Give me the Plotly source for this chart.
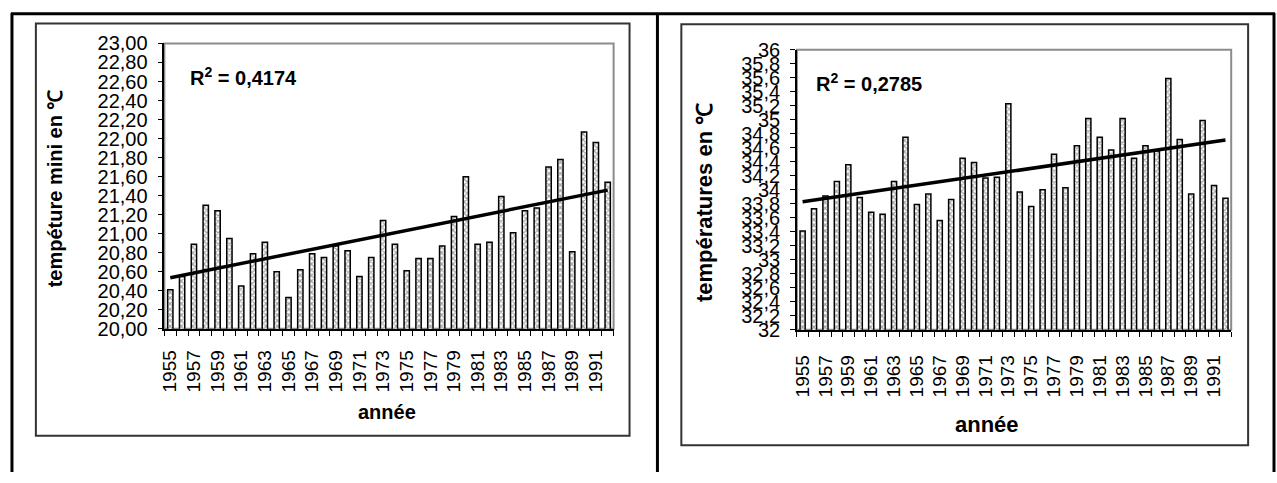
import numpy as np
import plotly.graph_objects as go

years = list(range(1955, 1993))

tmin = [20.41, 20.55, 20.89, 21.30, 21.24, 20.95, 20.45, 20.79, 20.91, 20.60,
        20.33, 20.62, 20.79, 20.75, 20.87, 20.82, 20.55, 20.75, 21.14, 20.89,
        20.61, 20.74, 20.74, 20.87, 21.18, 21.60, 20.89, 20.91, 21.39, 21.01,
        21.24, 21.27, 21.70, 21.78, 20.81, 22.07, 21.96, 21.54]

tmax = [33.41, 33.73, 33.91, 34.12, 34.36, 33.89, 33.68, 33.65, 34.12, 34.75,
        33.79, 33.94, 33.56, 33.86, 34.45, 34.39, 34.17, 34.18, 35.23, 33.97,
        33.76, 34.00, 34.51, 34.03, 34.63, 35.02, 34.75, 34.57, 35.02, 34.45,
        34.63, 34.56, 35.59, 34.72, 33.94, 34.99, 34.06, 33.88]

x_tickvals = list(range(1955, 1992, 2))
x_ticktext = [str(y) for y in x_tickvals]

left_yvals = [20.0, 20.2, 20.4, 20.6, 20.8, 21.0, 21.2, 21.4, 21.6, 21.8,
              22.0, 22.2, 22.4, 22.6, 22.8, 23.0]
left_ytext = ["20,00", "20,20", "20,40", "20,60", "20,80", "21,00", "21,20", "21,40",
              "21,60", "21,80", "22,00", "22,20", "22,40", "22,60", "22,80", "23,00"]

right_yvals = [32.0, 32.2, 32.4, 32.6, 32.8, 33.0, 33.2, 33.4, 33.6, 33.8, 34.0,
               34.2, 34.4, 34.6, 34.8, 35.0, 35.2, 35.4, 35.6, 35.8, 36.0]
right_ytext = ["32", "32,2", "32,4", "32,6", "32,8", "33", "33,2", "33,4", "33,6", "33,8",
               "34", "34,2", "34,4", "34,6", "34,8", "35", "35,2", "35,4", "35,6", "35,8", "36"]

r2_left = "R<sup>2</sup> = 0,4174"
r2_right = "R<sup>2</sup> = 0,2785"

W, H = 1277, 483
FONT = "Liberation Sans, Arial, sans-serif"


def px(x):
    return x / W


def py(y):
    return 1 - y / H


fig = go.Figure()

bar_style = dict(
    marker=dict(
        color="white",
        line=dict(color="black", width=1.5),
        pattern=dict(shape="x", fgcolor="#444444", bgcolor="white", size=4, solidity=0.5),
    ),
    width=0.45,
    showlegend=False,
)

fig.add_trace(go.Bar(x=years, y=tmin, xaxis="x", yaxis="y", **bar_style))
fig.add_trace(go.Bar(x=years, y=tmax, xaxis="x2", yaxis="y2", **bar_style))

# linear trend lines (least squares fit of the series)
yr = np.array(years, dtype=float)
c1 = np.polyfit(yr, np.array(tmin), 1)
c2 = np.polyfit(yr, np.array(tmax), 1)
ends = [years[0], years[-1]]
fig.add_trace(go.Scatter(x=ends, y=[np.polyval(c1, e) for e in ends], mode="lines",
                         line=dict(color="black", width=3.5), xaxis="x", yaxis="y",
                         showlegend=False))
fig.add_trace(go.Scatter(x=ends, y=[np.polyval(c2, e) for e in ends], mode="lines",
                         line=dict(color="black", width=3.5), xaxis="x2", yaxis="y2",
                         showlegend=False))

xaxis_common = dict(
    type="linear",
    range=[1954.5, 1992.5],
    tickmode="array",
    tickvals=x_tickvals,
    ticktext=x_ticktext,
    tickangle=-90,
    ticks="",
    showline=True,
    linecolor="black",
    linewidth=1.5,
    showgrid=False,
    zeroline=False,
    tickfont=dict(family=FONT, size=19, color="black"),
    minor=dict(ticks="outside", tick0=1954.5, dtick=1, ticklen=5, tickcolor="black",
               tickwidth=1, showgrid=False),
)

yaxis_common = dict(
    tickmode="array",
    ticks="outside",
    ticklen=5,
    tickcolor="black",
    showline=True,
    linecolor="black",
    linewidth=1.5,
    showgrid=False,
    zeroline=False,
    ticklabelstandoff=6,
)

fig.update_layout(
    width=W, height=H,
    margin=dict(l=0, r=0, t=0, b=0),
    paper_bgcolor="white",
    plot_bgcolor="white",
    bargap=0.5,
    xaxis=dict(domain=[px(160), px(611)], anchor="y", ticklabelstandoff=12, **xaxis_common),
    yaxis=dict(domain=[py(333), py(34)], anchor="x", range=[20, 23],
               tickvals=left_yvals, ticktext=left_ytext,
               tickfont=dict(family=FONT, size=20, color="black"), **yaxis_common),
    xaxis2=dict(domain=[px(795), px(1231)], anchor="y2", ticklabelstandoff=16, **xaxis_common),
    yaxis2=dict(domain=[py(334), py(40.7)], anchor="x2", range=[32, 36],
                tickvals=right_yvals, ticktext=right_ytext,
                tickfont=dict(family=FONT, size=20, color="black"), **yaxis_common),
)

shapes = []
line_thick = dict(color="black", width=3)
# outer table lines
shapes.append(dict(type="line", xref="paper", yref="paper", x0=px(6), x1=px(1275), y0=py(3), y1=py(3), line=line_thick))
shapes.append(dict(type="line", xref="paper", yref="paper", x0=px(7), x1=px(7), y0=py(2), y1=py(483), line=line_thick))
shapes.append(dict(type="line", xref="paper", yref="paper", x0=px(655), x1=px(655), y0=py(2), y1=py(483), line=line_thick))
shapes.append(dict(type="line", xref="paper", yref="paper", x0=px(1274), x1=px(1274), y0=py(2), y1=py(483), line=line_thick))
# chart frames
shapes.append(dict(type="rect", xref="paper", yref="paper", x0=px(31), x1=px(627), y0=py(445), y1=py(13),
                   line=dict(color="#333333", width=2)))
shapes.append(dict(type="rect", xref="paper", yref="paper", x0=px(679), x1=px(1248), y0=py(455), y1=py(14),
                   line=dict(color="#333333", width=2)))
# plot area borders
shapes.append(dict(type="rect", xref="paper", yref="paper", x0=px(160), x1=px(611), y0=py(333), y1=py(34),
                   line=dict(color="#8c8c8c", width=2), layer="below"))
shapes.append(dict(type="rect", xref="paper", yref="paper", x0=px(795), x1=px(1231), y0=py(334), y1=py(40.7),
                   line=dict(color="#8c8c8c", width=2), layer="below"))
fig.update_layout(shapes=shapes)

bold = dict(family=FONT, size=20, color="black")
annotations = [
    dict(text="<b>tempéture mini en ℃</b>", x=px(50), y=py(186), xref="paper", yref="paper",
         textangle=-90, showarrow=False, font=dict(family=FONT, size=20, color="black"),
         xanchor="center", yanchor="middle"),
    dict(text="<b>températures en ℃</b>", x=px(703), y=py(201), xref="paper", yref="paper",
         textangle=-90, showarrow=False, font=dict(family=FONT, size=22, color="black"),
         xanchor="center", yanchor="middle"),
    dict(text="<b>année</b>", x=px(383), y=py(420), xref="paper", yref="paper",
         showarrow=False, font=bold, xanchor="center", yanchor="middle"),
    dict(text="<b>année</b>", x=px(986), y=py(433), xref="paper", yref="paper",
         showarrow=False, font=dict(family=FONT, size=22, color="black"), xanchor="center", yanchor="middle"),
    dict(text="<b>" + r2_left + "</b>", x=px(184), y=py(69), xref="paper", yref="paper",
         showarrow=False, font=bold, xanchor="left", yanchor="middle"),
    dict(text="<b>" + r2_right + "</b>", x=px(812), y=py(75), xref="paper", yref="paper",
         showarrow=False, font=bold, xanchor="left", yanchor="middle"),
]
fig.update_layout(annotations=annotations)

fig.write_html("out.html", config={"displayModeBar": False},
               post_script="document.body.style.margin='0';document.body.style.overflow='hidden';")
